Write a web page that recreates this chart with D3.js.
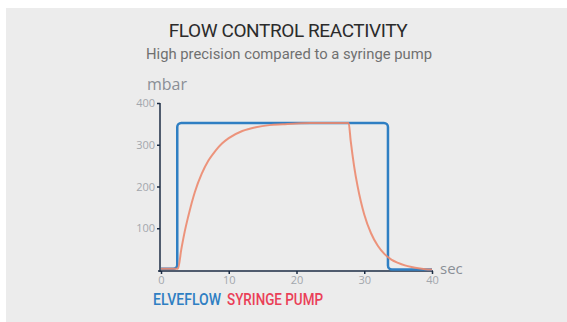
<!DOCTYPE html>
<html>
<head>
<meta charset="utf-8">
<script src="https://cdn.jsdelivr.net/npm/d3@7"></script>
<style>
  html, body { margin: 0; padding: 0; background: #ffffff; }
  svg { display: block; }
</style>
</head>
<body>
<svg id="chart" width="567" height="322"></svg>
<script>
// Pressure response (mbar) over time (sec)
const elveflowTime  = [0, 2.4, 2.4, 33.5, 33.5, 40];
const elveflowValue = [3, 3, 352, 352, 1, 1];

const syringeTime  = [0, 2.5, 3, 3.5, 4, 5, 6, 7, 8, 9, 10, 12, 14, 16, 18, 20, 22, 27.7,
                      28, 28.5, 29, 29.5, 30, 31, 32, 33, 34, 35, 36, 37, 38, 39, 40];
const syringeValue = [3, 3, 50, 92, 127, 187, 230, 262, 285, 303, 316, 333, 342, 347, 349, 351, 352, 352,
                      309, 249, 202, 164, 133, 88, 58, 38, 25, 17, 11, 7, 4, 2, 1];

const xTicks = [0, 10, 20, 30, 40];
const yTicks = [100, 200, 300, 400];

const svg = d3.select("#chart");

svg.append("rect")
  .attr("x", 6).attr("y", 8).attr("width", 561).attr("height", 314)
  .attr("fill", "#ececec");

const x = d3.scaleLinear().domain([0, 40]).range([161, 432]);
const y = d3.scaleLinear().domain([0, 400]).range([270, 103]);

// Titles
svg.append("text")
  .attr("x", 288).attr("y", 37)
  .attr("text-anchor", "middle")
  .attr("font-family", "Roboto, sans-serif")
  .attr("font-size", 19)
  .attr("letter-spacing", -0.4)
  .attr("fill", "#2b2b2b")
  .text("FLOW CONTROL REACTIVITY");

svg.append("text")
  .attr("x", 289).attr("y", 59)
  .attr("text-anchor", "middle")
  .attr("font-family", "Roboto, sans-serif")
  .attr("font-size", 14.8)
  .attr("fill", "#707070")
  .text("High precision compared to a syringe pump");

// Axis unit labels
svg.append("text")
  .attr("x", 147).attr("y", 90)
  .attr("font-family", "'Open Sans', sans-serif")
  .attr("font-size", 16)
  .attr("fill", "#8a8f96")
  .text("mbar");

svg.append("text")
  .attr("x", 440).attr("y", 274)
  .attr("font-family", "'Open Sans', sans-serif")
  .attr("font-size", 15)
  .attr("fill", "#8a8f96")
  .text("sec");

// Axes
const axisColor = "#1c2d45";
const yAxis = svg.append("g")
  .attr("transform", "translate(160,0)")
  .call(d3.axisLeft(y).tickValues(yTicks).tickSize(3).tickPadding(2));
const xAxis = svg.append("g")
  .attr("transform", "translate(0,271)")
  .call(d3.axisBottom(x).tickValues(xTicks).tickSize(3).tickPadding(2));

[xAxis, yAxis].forEach(g => {
  g.select(".domain").remove();
  g.selectAll(".tick line").attr("stroke", axisColor).attr("stroke-width", 1.5);
  g.selectAll(".tick text")
    .attr("fill", "#a3a7ad")
    .attr("font-family", "'Open Sans', sans-serif")
    .attr("font-size", 11);
});

svg.append("line")
  .attr("x1", 160).attr("x2", 160)
  .attr("y1", y(400)).attr("y2", 272)
  .attr("stroke", axisColor).attr("stroke-width", 1.5);
svg.append("line")
  .attr("x1", 158).attr("x2", 433)
  .attr("y1", 271).attr("y2", 271)
  .attr("stroke", axisColor).attr("stroke-width", 1.5);

// Series
// Step trace with slightly rounded corners
function roundedStep(points, r) {
  const p = d3.path();
  const pts = points.map(d => [x(d[0]), y(d[1])]);
  p.moveTo(pts[0][0], pts[0][1]);
  for (let i = 1; i < pts.length - 1; i++) {
    p.arcTo(pts[i][0], pts[i][1], pts[i + 1][0], pts[i + 1][1], r);
  }
  const last = pts[pts.length - 1];
  p.lineTo(last[0], last[1]);
  return p.toString();
}

svg.append("path")
  .attr("d", roundedStep(d3.zip(elveflowTime, elveflowValue), 4))
  .attr("fill", "none")
  .attr("stroke", "#2f7fc3")
  .attr("stroke-width", 2.5);

const line = d3.line().x(d => x(d[0])).y(d => y(d[1])).curve(d3.curveMonotoneX);

svg.append("path")
  .datum(d3.zip(syringeTime, syringeValue))
  .attr("d", line)
  .attr("fill", "none")
  .attr("stroke", "#ec8a6f")
  .attr("stroke-opacity", 0.9)
  .attr("stroke-width", 2);

// Legend
const legendFont = {family: "Roboto, sans-serif", size: 16, weight: 500};
svg.append("text")
  .attr("x", 153).attr("y", 305)
  .attr("font-family", legendFont.family)
  .attr("font-size", legendFont.size)
  .attr("font-weight", legendFont.weight)
  .attr("textLength", 68)
  .attr("lengthAdjust", "spacingAndGlyphs")
  .attr("fill", "#2f7fc3")
  .text("ELVEFLOW");
svg.append("text")
  .attr("x", 227).attr("y", 305)
  .attr("font-family", legendFont.family)
  .attr("font-size", legendFont.size)
  .attr("font-weight", legendFont.weight)
  .attr("textLength", 96)
  .attr("lengthAdjust", "spacingAndGlyphs")
  .attr("fill", "#ea4058")
  .text("SYRINGE PUMP");
</script>
</body>
</html>
